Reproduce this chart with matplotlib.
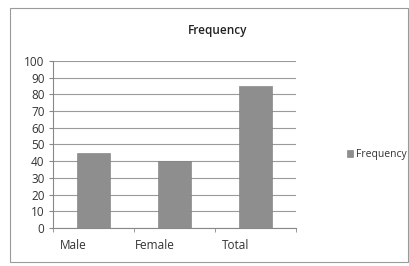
import numpy as np
import matplotlib
matplotlib.use("Agg")
import matplotlib.pyplot as plt
from matplotlib.patches import Rectangle
import matplotlib.transforms as mtransforms

categories = ["Male", "Female", "Total"]
frequency = [45, 40, 85]
yticks = [0, 10, 20, 30, 40, 50, 60, 70, 80, 90, 100]

plt.rcParams["font.family"] = ["Open Sans", "DejaVu Sans"]

fig = plt.figure(figsize=(4.1, 2.66), dpi=100)
fig.patch.set_facecolor("white")

# outer chart border
fig.patches.append(Rectangle((0.025, 0.015), 0.97, 0.955, transform=fig.transFigure,
                             fill=False, edgecolor="#9a9a9a", linewidth=0.8))

ax = fig.add_axes([0.129, 0.143, 0.593, 0.628])
x = np.arange(len(categories))
ax.bar(x, frequency, width=0.4, color="#8e8e8e", edgecolor="#7a7a7a", linewidth=0.4,
       label="Frequency", zorder=3)

ax.set_xlim(-0.5, len(categories) - 0.5)
ax.set_ylim(0, 100)
ax.set_yticks(yticks)
ax.tick_params(axis="y", labelsize=8.5, length=3, color="#888888", pad=3, labelcolor="#333333")
ax.yaxis.grid(True, color="#9a9a9a", linewidth=0.8, zorder=0)

ax.set_xticks(x)
ax.set_xticklabels(categories, fontsize=8.5, color="#333333")
ax.tick_params(axis="x", length=0, pad=8)
offset = mtransforms.ScaledTranslation(-20 / 100, 0, fig.dpi_scale_trans)
for lbl in ax.get_xticklabels():
    lbl.set_transform(lbl.get_transform() + offset)
# boundary tick marks
ax.set_xticks(np.arange(len(categories) + 1) - 0.5, minor=True)
ax.tick_params(axis="x", which="minor", length=3, color="#888888")

for s in ["top", "right"]:
    ax.spines[s].set_visible(False)
ax.spines["left"].set_color("#888888")
ax.spines["bottom"].set_color("#888888")
ax.spines["left"].set_linewidth(0.8)
ax.spines["bottom"].set_linewidth(0.8)

fig.text(0.53, 0.885, "Frequency", ha="center", va="center", fontsize=8.5,
         fontweight="semibold", color="#222222")
ax.legend(loc="center left", bbox_to_anchor=(1.17, 0.44), fontsize=7.5, frameon=False,
          handlelength=0.6, handleheight=0.6, handletextpad=0.3, labelcolor="#333333")

fig.savefig("out.png", dpi=100)
